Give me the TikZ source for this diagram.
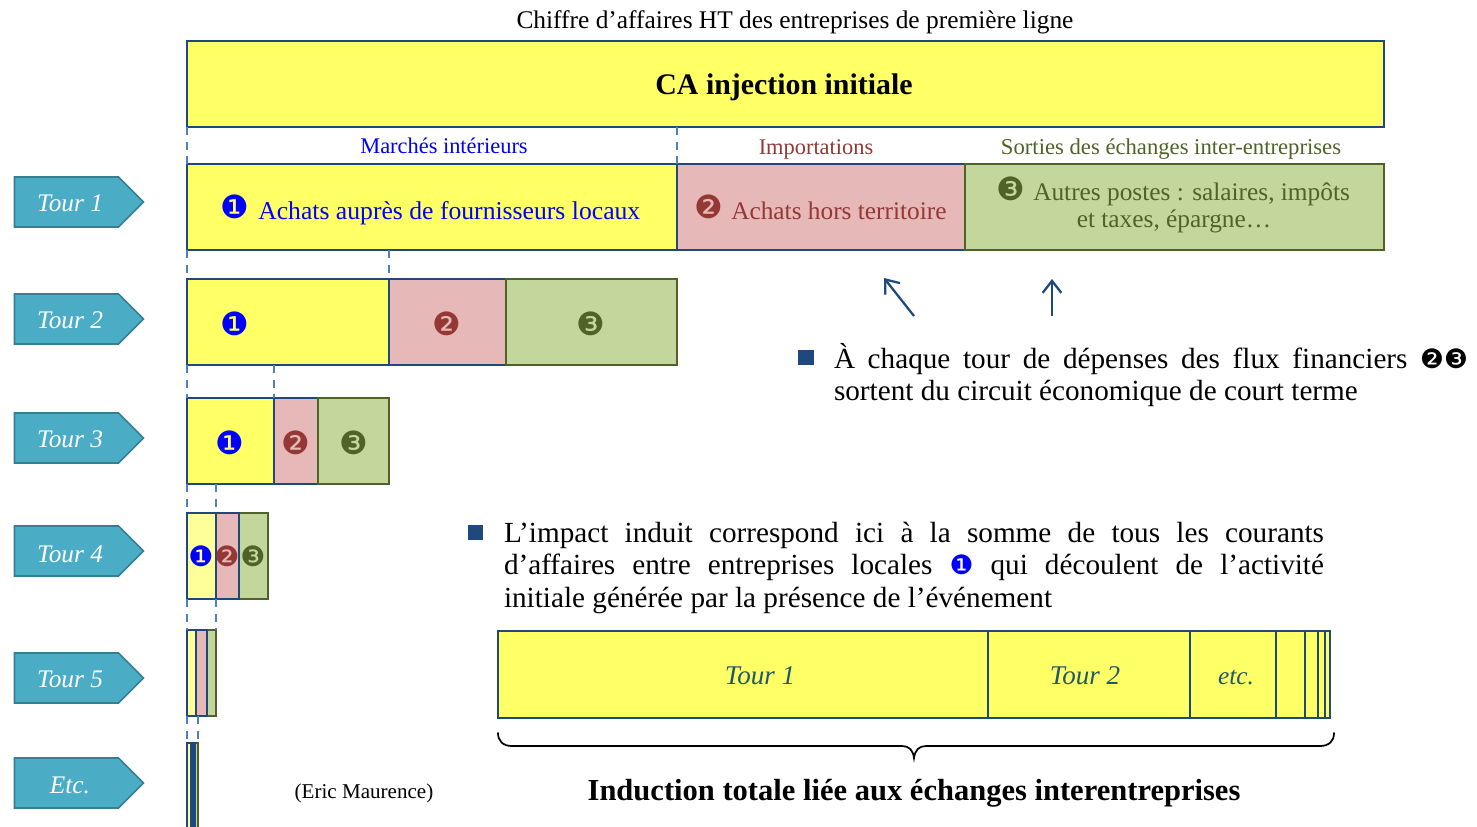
\documentclass[tikz,border=0pt]{standalone}
\usepackage{fontspec}
\setmainfont{Liberation Serif}
\newfontfamily\dvfont{DejaVu Sans}
\usetikzlibrary{shapes.symbols,arrows.meta}
\definecolor{bYellow}{HTML}{FFFF66}
\definecolor{bYellowL}{HTML}{FFFF99}
\definecolor{bPink}{HTML}{E6B9B8}
\definecolor{bGreen}{HTML}{C3D69B}
\definecolor{bNavy}{HTML}{1F497D}
\definecolor{bOlive}{HTML}{4F6228}
\definecolor{bRed}{HTML}{953735}
\definecolor{bDash}{HTML}{4F81BD}
\definecolor{bTeal}{HTML}{4BACC6}
\definecolor{bTealD}{HTML}{357F93}
\definecolor{bTealT}{HTML}{215968}
\newlength{\pxu}\setlength{\pxu}{0.75pt}
\newcommand{\dg}[2][24pt]{{\dvfont\fontsize{#1}{#1}\selectfont #2}}
\newcommand{\bx}[7][]{\node[bar,#7,minimum width=#5\pxu-#3\pxu,minimum height=#6\pxu-#4\pxu,#1] (#2) at ({(#3+#5)/2},{(#4+#6)/2}) {};}
\tikzset{
 x=0.75pt,y=-0.75pt,
 bar/.style={draw=bNavy,line width=1.5pt,inner sep=0pt,outer sep=0pt,rectangle},
 yel/.style={fill=bYellow},
 yell/.style={fill=bYellowL},
 pnk/.style={fill=bPink},
 grn/.style={fill=bGreen,draw=bOlive},
 tourtag/.style={signal,signal to=east,signal pointer angle=90,fill=bTeal,draw=bTealD,line width=1.2pt,minimum width=129\pxu,minimum height=50\pxu,inner sep=0pt,outer sep=0pt},
 tourtext/.style={text=white,font=\fontsize{19pt}{19pt}\selectfont\itshape,inner sep=0pt},
 dashlink/.style={draw=bDash,line width=1.4pt,dash pattern=on 6pt off 5pt},
 outarrow/.style={draw=bNavy,line width=1.7pt,-{Straight Barb[length=9pt,width=14pt,line width=1.7pt]}},
 bulletsq/.style={fill=bNavy,minimum size=15.5\pxu,inner sep=0pt,outer sep=0pt,rectangle},
 para/.style={font=\fontsize{21.9pt}{24.5pt}\selectfont,inner sep=0pt,outer sep=0pt,anchor=north west,align=left},
}
\begin{document}
\begin{tikzpicture}
\useasboundingbox (0,0) rectangle (1477,826);
% top
\node[inner sep=0pt,font=\fontsize{19.05pt}{22pt}\selectfont] (title) at (795,22) {Chiffre d’affaires HT des entreprises de première ligne};
\bx{ca}{187}{41}{1384}{127}{yel}
\node[inner sep=0pt,font=\fontsize{22.4pt}{26pt}\selectfont\bfseries] (catext) at (784,87) {CA injection initiale};
\node[inner sep=0pt,text=blue,font=\fontsize{16.8pt}{20pt}\selectfont] (marches) at (444,146) {Marchés intérieurs};
\node[inner sep=0pt,text=bRed,font=\fontsize{16.8pt}{20pt}\selectfont] (imports) at (816,149) {Importations};
\node[inner sep=0pt,text=bOlive,font=\fontsize{17pt}{20pt}\selectfont] (sorties) at (1171,149) {Sorties des échanges inter-entreprises};
% Tour 1
\bx{a1}{187}{164}{677}{250}{yel}
\bx{b1}{677}{164}{965}{250}{pnk}
\bx{c1}{965}{164}{1384}{250}{grn}
\node[inner sep=0pt,text=blue] (a1d) at (235,207) {\dg{❶}};
\node[inner sep=0pt,text=blue,anchor=west,font=\fontsize{19.25pt}{22pt}\selectfont] (a1t) at (258,213) {Achats auprès de fournisseurs locaux};
\node[inner sep=0pt,text=bRed] (b1d) at (709,207) {\dg{❷}};
\node[inner sep=0pt,text=bRed,anchor=west,font=\fontsize{19pt}{22pt}\selectfont] (b1t) at (731,211) {Achats hors territoire};
\node[inner sep=0pt,text=bOlive] (c1d) at (1011,189) {\dg{❸}};
\node[inner sep=0pt,text=bOlive,anchor=west,font=\fontsize{19pt}{22pt}\selectfont] (c1t) at (1033,194) {Autres postes : salaires, impôts};
\node[inner sep=0pt,text=bOlive,font=\fontsize{19pt}{22pt}\selectfont] (c1u) at (1174,221) {et taxes, épargne…};
% Tour 2
\bx{a2}{187}{279}{389}{365}{yel}
\bx{b2}{389}{279}{506}{365}{pnk}
\bx{c2}{506}{279}{677}{365}{grn}
\node[inner sep=0pt,text=blue] (a2d) at (235,324) {\dg{❶}};
\node[inner sep=0pt,text=bRed] (b2d) at (447,324) {\dg{❷}};
\node[inner sep=0pt,text=bOlive] (c2d) at (591,324) {\dg{❸}};
% Tour 3
\bx{a3}{187}{398}{274}{484}{yel}
\bx{b3}{274}{398}{318}{484}{pnk}
\bx{c3}{318}{398}{389}{484}{grn}
\node[inner sep=0pt,text=blue] (a3d) at (230,443) {\dg{❶}};
\node[inner sep=0pt,text=bRed] (b3d) at (296,443) {\dg{❷}};
\node[inner sep=0pt,text=bOlive] (c3d) at (354,443) {\dg{❸}};
% Tour 4
\bx{c4}{239}{513}{268}{599}{grn}
\bx{b4}{216}{513}{239}{599}{pnk}
\bx{a4}{187}{513}{216}{599}{yell}
\node[inner sep=0pt,text=blue] (a4d) at (201,556) {\dg[21pt]{❶}};
\node[inner sep=0pt,text=bRed] (b4d) at (227,556) {\dg[21pt]{❷}};
\node[inner sep=0pt,text=bOlive] (c4d) at (253,556) {\dg[21pt]{❸}};
% Tour 5
\bx{c5}{207}{630}{216}{716}{grn}
\bx{a5}{187}{630}{196}{716}{yell}
\bx{b5}{196}{630}{207}{716}{pnk}
% Etc
\bx[line width=0.9pt]{c6}{195}{743}{198}{830}{grn}
\bx[line width=0.9pt]{b6}{191}{743}{195}{830}{fill=bNavy}
\bx[line width=0.9pt]{a6}{187}{743}{191}{830}{yell}
% dashed links
\draw[dashlink] (ca.south west) -- (a1.north west);
\draw[dashlink] (ca.south west -| a1.north east) -- (a1.north east);
\draw[dashlink] (a1.south west) -- (a2.north west);
\draw[dashlink] (a2.north east |- a1.south) -- (a2.north east);
\draw[dashlink] (a2.south west) -- (a3.north west);
\draw[dashlink] (a3.north east |- a2.south) -- (a3.north east);
\draw[dashlink] (a3.south west) -- (a4.north west);
\draw[dashlink] (a4.north east |- a3.south) -- (a4.north east);
\draw[dashlink] (a4.south west) -- (a5.north west);
\draw[dashlink] (c5.north east |- a4.south) -- (c5.north east);
\draw[dashlink] (a5.south west) -- (a6.north west);
\draw[dashlink] (c6.north east |- a5.south) -- (c6.north east);
% tags
\node[tourtag] (t1) at (66.5,202) {};
\node[tourtag] (t2) at (66.5,319) {};
\node[tourtag] (t3) at (66.5,438) {};
\node[tourtag] (t4) at (66.5,551) {};
\node[tourtag] (t5) at (66.5,678) {};
\node[tourtag] (t6) at (66.5,783) {};
\node[tourtext] (t1t) at (70,203) {Tour 1};
\node[tourtext] (t2t) at (70,320) {Tour 2};
\node[tourtext] (t3t) at (70,439) {Tour 3};
\node[tourtext] (t4t) at (70,554) {Tour 4};
\node[tourtext] (t5t) at (70,679) {Tour 5};
\node[tourtext] (t6t) at (70,785) {Etc.};
% arrows
\coordinate (ar1s) at (914,316); \coordinate (ar1e) at (884,278);
\coordinate (ar2s) at (1052,316); \coordinate (ar2e) at (1052,279);
\draw[outarrow] (ar1s) -- (ar1e);
\draw[outarrow] (ar2s) -- (ar2e);
% paragraph 1
\node[bulletsq] (bu1) at (806,357.5) {};
\node[para] (p1) at (834,343) {\makebox[634\pxu][s]{À chaque tour de dépenses des flux financiers \dg[20pt]{❷❸}}\\sortent du circuit économique de court terme};
% paragraph 2
\node[bulletsq] (bu2) at (475.5,532.5) {};
\node[para] (p2) at (504,522) {\makebox[820\pxu][s]{L’impact induit correspond ici à la somme de tous les courants}\\\makebox[820\pxu][s]{d’affaires entre entreprises locales \textcolor{blue}{\dg[20pt]{❶}} qui découlent de l’activité}\\initiale générée par la présence de l’événement};
% bottom bar
\bx{s1}{498}{631}{988}{718}{yel}
\bx{s2}{988}{631}{1190}{718}{yel}
\bx{s3}{1190}{631}{1276}{718}{yel}
\bx{s4}{1276}{631}{1305}{718}{yel}
\bx{s5}{1305}{631}{1318}{718}{yel}
\bx{s6}{1318}{631}{1325}{718}{yel}
\bx{s7}{1325}{631}{1330}{718}{yel}
\node[inner sep=0pt,text=bTealT,font=\fontsize{20.3pt}{22pt}\selectfont\itshape] (s1t) at (760,676) {Tour 1};
\node[inner sep=0pt,text=bTealT,font=\fontsize{20.3pt}{22pt}\selectfont\itshape] (s2t) at (1085,676) {Tour 2};
\node[inner sep=0pt,text=bTealT,font=\fontsize{19pt}{22pt}\selectfont\itshape] (s3t) at (1236,678) {etc.};
% brace
\draw[black,line width=1.3pt,line cap=round] (498,733) .. controls (498,741) and (503,746) .. (512,746) -- (902,746) .. controls (909,746) and (913,750) .. (914,758) .. controls (915,750) and (919,746) .. (926,746) -- (1320,746) .. controls (1329,746) and (1334,741) .. (1334,733);
\node[inner sep=0pt,font=\fontsize{22.9pt}{26pt}\selectfont\bfseries] (total) at (914,793) {Induction totale liée aux échanges interentreprises};
\node[inner sep=0pt,font=\fontsize{15.8pt}{18pt}\selectfont] (credit) at (364,793) {(Eric Maurence)};
\end{tikzpicture}
\end{document}
